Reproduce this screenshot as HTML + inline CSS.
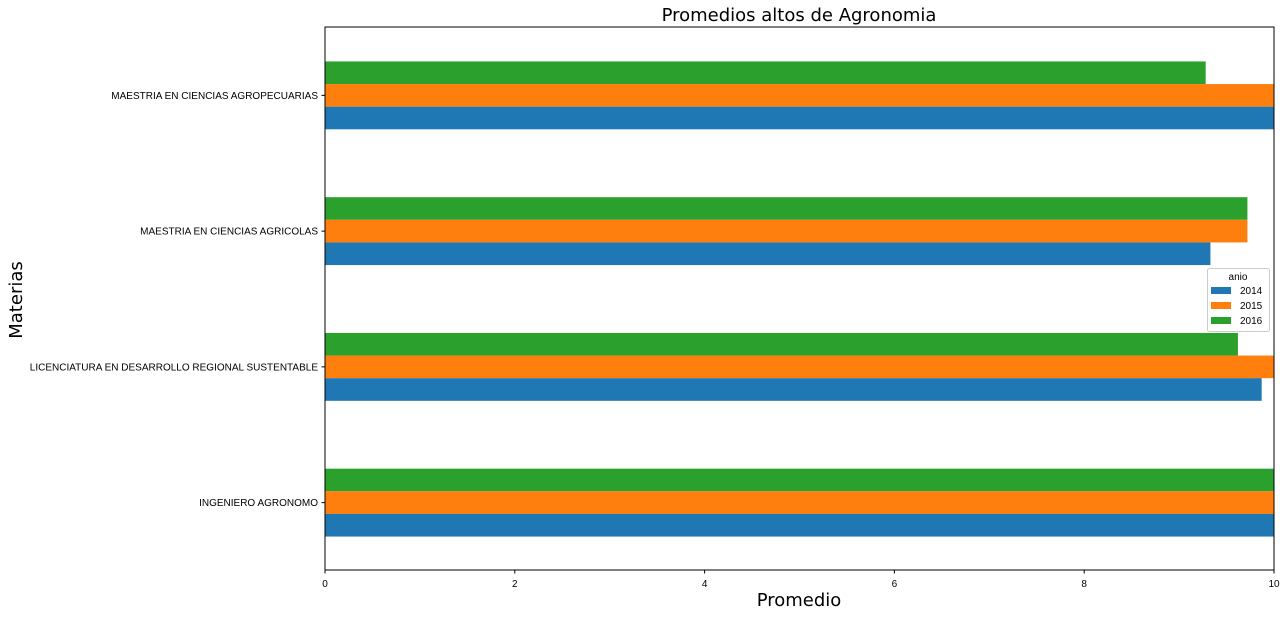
<!DOCTYPE html>
<html><head><meta charset="utf-8"><style>
body{margin:0;background:#fff;width:1287px;height:617px;overflow:hidden;font-family:"Liberation Sans","DejaVu Sans",sans-serif}
.big{font-family:"DejaVu Sans","Liberation Sans",sans-serif}
</style></head><body>
<svg id="chart" width="1287" height="617">
<text class="big" x="799" y="21" font-size="18" text-anchor="middle">Promedios altos de Agronomia</text>
<text class="big" x="799" y="606" font-size="18" text-anchor="middle">Promedio</text>
<text class="big" transform="translate(22,300) rotate(-90)" font-size="18" text-anchor="middle">Materias</text>
<g id="bars"></g><g id="ticks"></g>
<rect x="325" y="27" width="949" height="543" fill="none" stroke="#000" stroke-width="1"/>
<g>
<rect x="1207.5" y="268.5" width="62" height="63" rx="2" fill="#fff" stroke="#ccc"/>
<text x="1238" y="280" font-size="10" text-anchor="middle">anio</text>
<rect x="1211" y="287" width="20" height="7" fill="#1f77b4"/>
<text x="1240" y="294" font-size="10">2014</text>
<rect x="1211" y="302" width="20" height="7" fill="#ff7f0e"/>
<text x="1240" y="309" font-size="10">2015</text>
<rect x="1211" y="317" width="20" height="7" fill="#2ca02c"/>
<text x="1240" y="324" font-size="10">2016</text>
</g>
</svg>
<script>
const categories=["MAESTRIA EN CIENCIAS AGROPECUARIAS","MAESTRIA EN CIENCIAS AGRICOLAS","LICENCIATURA EN DESARROLLO REGIONAL SUSTENTABLE","INGENIERO AGRONOMO"];
const v2014=[10,9.33,9.87,10];
const v2015=[10,9.72,10,10];
const v2016=[9.28,9.72,9.62,10];
const xTicks=[0,2,4,6,8,10];
const NS="http://www.w3.org/2000/svg";
const L=325,R=1274,T=27,B=570;
const xs=v=>L+(v/10)*(R-L);
const step=(B-T)/categories.length;
const yc=i=>T+step*(i+0.5)+0.5;
const bh=step/6;
const bars=document.getElementById('bars'),ticks=document.getElementById('ticks');
const series=[[v2016,"#2ca02c","2016"],[v2015,"#ff7f0e","2015"],[v2014,"#1f77b4","2014"]];
categories.forEach((c,i)=>{
  series.forEach((s,k)=>{
    const r=document.createElementNS(NS,'rect');
    r.setAttribute('x',L);r.setAttribute('y',yc(i)-1.5*bh+k*bh);
    r.setAttribute('width',xs(s[0][i])-L);r.setAttribute('height',bh);r.setAttribute('fill',s[1]);
    
    
    bars.appendChild(r);
  });
  const t=document.createElementNS(NS,'text');
  t.setAttribute('x',L-7);t.setAttribute('y',yc(i)+3.5);t.setAttribute('font-size','10');t.setAttribute('text-anchor','end');
  t.textContent=c;
  
  
  ticks.appendChild(t);
  const l=document.createElementNS(NS,'line');
  l.setAttribute('x1',L-3.5);l.setAttribute('x2',L);l.setAttribute('y1',yc(i));l.setAttribute('y2',yc(i));l.setAttribute('stroke','#000');
  
  
  ticks.appendChild(l);
});
xTicks.forEach(v=>{
  const l=document.createElementNS(NS,'line');
  l.setAttribute('x1',xs(v));l.setAttribute('x2',xs(v));l.setAttribute('y1',B);l.setAttribute('y2',B+3.5);l.setAttribute('stroke','#000');
  
  
  ticks.appendChild(l);
  const t=document.createElementNS(NS,'text');
  t.setAttribute('x',xs(v));t.setAttribute('y',B+17);t.setAttribute('font-size','10');t.setAttribute('text-anchor','middle');
  t.textContent=v;
  
  
  ticks.appendChild(t);
});
</script>
</body></html>
